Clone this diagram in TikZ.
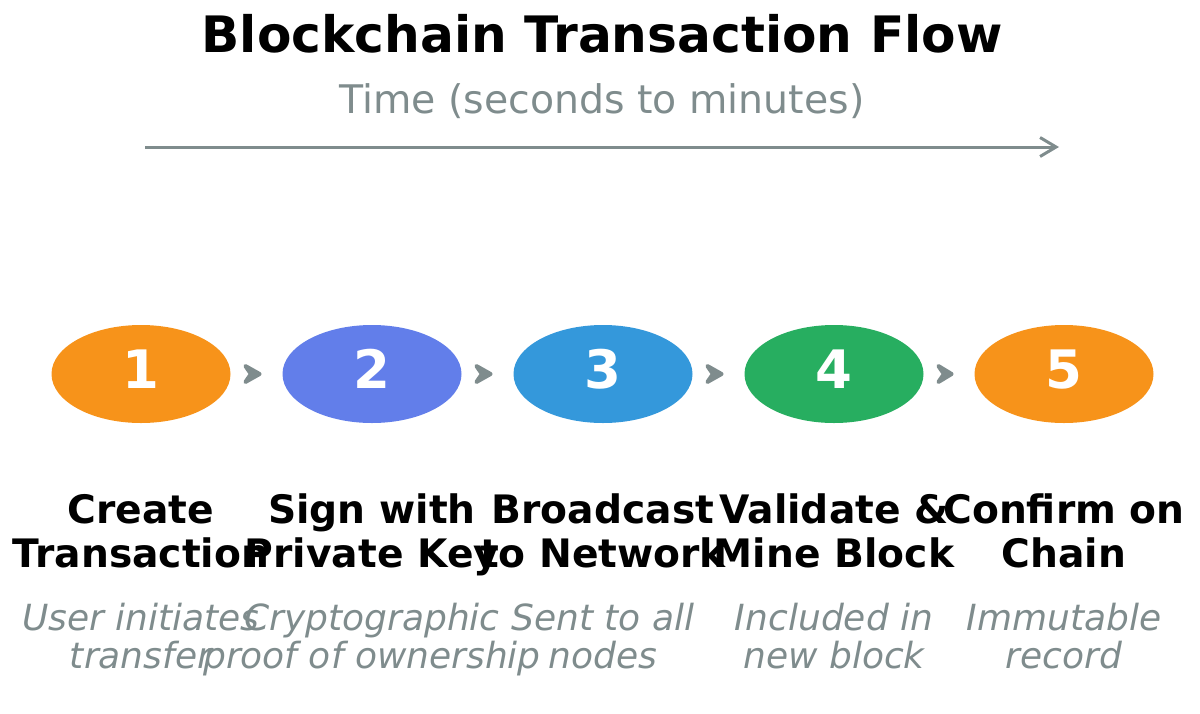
\documentclass[tikz,border=0pt]{standalone}
\usepackage{fontspec}
\setmainfont{DejaVu Sans}
\usetikzlibrary{shapes.geometric,arrows.meta,calc}
\definecolor{grayc}{HTML}{7F8C8D}
\definecolor{orangec}{HTML}{F7931A}
\definecolor{violetc}{HTML}{627EEA}
\definecolor{bluec}{HTML}{3498DB}
\definecolor{greenc}{HTML}{27AE60}
\tikzset{
  stepnode/.style={ellipse, fill=#1, draw=none, minimum width=89.5pt, minimum height=49pt, inner sep=0pt,
    text=white, font=\fontsize{26.5pt}{30pt}\selectfont\bfseries, text depth=5pt},
  titletext/.style={anchor=base, inner sep=0pt, font=\fontsize{25.1pt}{30pt}\selectfont\bfseries},
  subtext/.style={anchor=base, inner sep=0pt, text=grayc, font=\fontsize{19.7pt}{23pt}\selectfont},
  labeltext/.style={anchor=base, inner sep=0pt, font=\fontsize{19.6pt}{23pt}\selectfont\bfseries},
  desctext/.style={anchor=base, inner sep=0pt, text=grayc, font=\fontsize{18pt}{21pt}\selectfont\itshape},
  timearrow/.style={draw=grayc, line width=1.5pt, -{Straight Barb[length=8pt,width=9.5pt]}},
  chevron/.style={draw=grayc, fill=grayc, line width=2pt, line join=round}
}
\begin{document}
\begin{tikzpicture}[x=0.5pt,y=-0.5pt]
\useasboundingbox (0,0) rectangle (1200,713);
\node[titletext] (title) at (602,52) {Blockchain Transaction Flow};
\node[subtext] (sub) at (602,113) {Time (seconds to minutes)};
\coordinate (ts) at (145,147);
\coordinate (te) at (1059,147);
\draw[timearrow] (ts) -- (te);

\node[stepnode=orangec] (n1) at (141,374) {1};
\node[stepnode=violetc] (n2) at (372,374) {2};
\node[stepnode=bluec]   (n3) at (603,374) {3};
\node[stepnode=greenc]  (n4) at (834,374) {4};
\node[stepnode=orangec] (n5) at (1064,374) {5};

\foreach \a/\b in {n1/n2,n2/n3,n3/n4,n4/n5}{
  \draw[chevron] ($(\a.east)+(14.5,-8)$) -- ($(\b.west)+(-22.5,0)$)
     -- ($(\a.east)+(14.5,8)$) -- ($(\a.east)+(20,0)$) -- cycle;
}

\node[labeltext] (l1a) at (141,523) {Create};
\node[labeltext] (l1b) at (141,567) {Transaction};
\node[labeltext] (l2a) at (372,523) {Sign with};
\node[labeltext] (l2b) at (372,567) {Private Key};
\node[labeltext] (l3a) at (603,523) {Broadcast};
\node[labeltext] (l3b) at (603,567) {to Network};
\node[labeltext] (l4a) at (834,523) {Validate \&};
\node[labeltext] (l4b) at (834,567) {Mine Block};
\node[labeltext] (l5a) at (1064,523) {Confirm on};
\node[labeltext] (l5b) at (1064,567) {Chain};

\node[desctext] (d1a) at (141,630) {User initiates};
\node[desctext] (d1b) at (141,668) {transfer};
\node[desctext] (d2a) at (372,630) {Cryptographic};
\node[desctext] (d2b) at (372,668) {proof of ownership};
\node[desctext] (d3a) at (603,630) {Sent to all};
\node[desctext] (d3b) at (603,668) {nodes};
\node[desctext] (d4a) at (834,630) {Included in};
\node[desctext] (d4b) at (834,668) {new block};
\node[desctext] (d5a) at (1064,630) {Immutable};
\node[desctext] (d5b) at (1064,668) {record};
\end{tikzpicture}
\end{document}
